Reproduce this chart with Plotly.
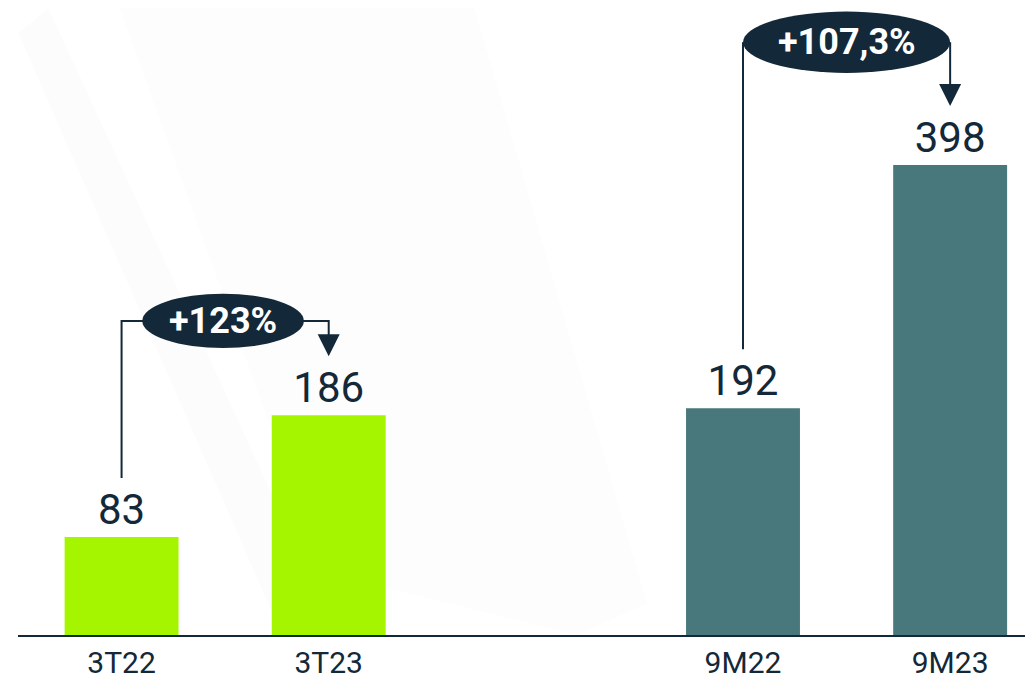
import plotly.graph_objects as go

# ---- data ----
categories = ["3T22", "3T23", "9M22", "9M23"]
positions = [0, 1, 3, 4]
values = [83, 186, 192, 398]
bar_colors = ["#a6f500", "#a6f500", "#48787b", "#48787b"]
growth_labels = ["+123%", "+107,3%"]
pairs = [(0, 1), (2, 3)]  # indices into the lists above

DARK = "#132838"

fig = go.Figure()
fig.add_trace(go.Bar(
    x=positions, y=values, width=0.55,
    marker=dict(color=bar_colors, line=dict(width=0)),
    text=[str(v) for v in values], textposition="outside",
    textfont=dict(family="Roboto", size=42, color=DARK),
    constraintext="none", cliponaxis=False, hoverinfo="skip",
))

shapes = []
annotations = []

# faint background texture
shapes.append(dict(type="path", xref="paper", yref="paper", layer="below",
                   path="M 0 0.96 L 0.03 1 L 0.30 0.05 L 0.26 0 Z",
                   fillcolor="rgba(0,0,0,0.012)", line=dict(width=0)))
shapes.append(dict(type="path", xref="paper", yref="paper", layer="below",
                   path="M 0.1 1 L 0.45 1 L 0.62 0.05 L 0.55 0 L 0.30 0.1 Z",
                   fillcolor="rgba(0,0,0,0.007)", line=dict(width=0)))

gap = 50  # data units between value and connector ends
# first pair: horizontal connector through an ellipse
i, j = pairs[0]
xa, xb = positions[i], positions[j]
ya, yb = values[i], values[j]
level = 266
shapes.append(dict(type="path", xref="x", yref="y",
                   path=f"M {xa} {ya+gap} L {xa} {level} L {xb} {level} L {xb} {yb+gap+14}",
                   line=dict(color=DARK, width=2)))
annotations.append(dict(x=xb, y=yb + gap, ax=xb, ay=yb + gap + 18, xref="x", yref="y",
                        axref="x", ayref="y", text="", showarrow=True, arrowhead=2,
                        arrowsize=2.2, arrowwidth=2, arrowcolor=DARK))
shapes.append(dict(type="circle", xref="x", yref="y", x0=xa + 0.10, x1=xa + 0.88,
                   y0=level - 23, y1=level + 23, fillcolor=DARK, line=dict(width=0)))
annotations.append(dict(x=(xa + xb) / 2 - 0.01, y=level, xref="x", yref="y",
                        text=f"<b>{growth_labels[0]}</b>", showarrow=False,
                        font=dict(family="Roboto", size=36, color="white")))

# second pair: ellipse spanning the two bar centres
i, j = pairs[1]
xa, xb = positions[i], positions[j]
ya, yb = values[i], values[j]
level2 = 502
shapes.append(dict(type="path", xref="x", yref="y",
                   path=f"M {xa} {ya+gap} L {xa} {level2}",
                   line=dict(color=DARK, width=2)))
shapes.append(dict(type="path", xref="x", yref="y",
                   path=f"M {xb} {level2} L {xb} {yb+gap+14}",
                   line=dict(color=DARK, width=2)))
annotations.append(dict(x=xb, y=yb + gap, ax=xb, ay=yb + gap + 18, xref="x", yref="y",
                        axref="x", ayref="y", text="", showarrow=True, arrowhead=2,
                        arrowsize=2.2, arrowwidth=2, arrowcolor=DARK))
shapes.append(dict(type="circle", xref="x", yref="y", x0=xa, x1=xb,
                   y0=level2 - 26, y1=level2 + 26, fillcolor=DARK, line=dict(width=0)))
annotations.append(dict(x=(xa + xb) / 2, y=level2, xref="x", yref="y",
                        text=f"<b>{growth_labels[1]}</b>", showarrow=False,
                        font=dict(family="Roboto", size=36, color="white")))

fig.update_layout(
    width=1025, height=668,
    margin=dict(l=10, r=0, t=0, b=41, pad=0, autoexpand=False),
    paper_bgcolor="white", plot_bgcolor="rgba(0,0,0,0)",
    showlegend=False, shapes=shapes, annotations=annotations,
    xaxis=dict(range=[-0.5, 4.4], tickvals=positions, ticktext=categories,
               showline=True, linecolor=DARK, linewidth=2, showgrid=False,
               zeroline=False, ticks="", ticklabelstandoff=0, automargin=False,
               tickfont=dict(family="Roboto", size=30, color=DARK),
               fixedrange=True),
    yaxis=dict(range=[0, 531], visible=False, showgrid=False, fixedrange=True,
               automargin=False),
)

fig.write_html("out.html", config={"displayModeBar": False})
